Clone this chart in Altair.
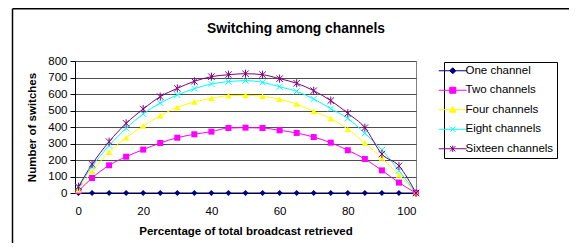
import altair as alt
import pandas as pd

# ---- data ----
x_values = [1, 5, 10, 15, 20, 25, 30, 35, 40, 45, 50, 55, 60, 65, 70, 75, 80, 85, 90, 95, 100]
one_channel = [0, 0, 0, 0, 0, 0, 0, 0, 0, 0, 0, 0, 0, 0, 0, 0, 0, 0, 0, 0, 0]
two_channels = [12, 91, 168, 220, 263, 303, 335, 356, 372, 394, 396, 394, 380, 364, 339, 305, 259, 206, 137, 63, 0]
four_channels = [18, 131, 248, 335, 406, 469, 519, 552, 574, 590, 592, 586, 568, 539, 495, 451, 386, 303, 212, 109, 0]
eight_channels = [34, 160, 287, 392, 479, 545, 594, 632, 661, 675, 681, 671, 644, 616, 570, 511, 452, 362, 261, 135, 0]
sixteen_channels = [38, 174, 311, 422, 509, 584, 634, 677, 705, 717, 723, 717, 693, 665, 620, 560, 483, 396, 236, 164, 0]

series_names = ["One channel", "Two channels", "Four channels", "Eight channels", "Sixteen channels"]
series_values = [one_channel, two_channels, four_channels, eight_channels, sixteen_channels]
series_colors = ["#000080", "#FF00FF", "#FFFF00", "#00FFFF", "#800080"]

x_ticks = [0, 20, 40, 60, 80, 100]
y_ticks = [0, 100, 200, 300, 400, 500, 600, 700, 800]

rows = []
for name, vals in zip(series_names, series_values):
    for xv, yv in zip(x_values, vals):
        rows.append({"series": name, "x": xv, "y": yv})
df = pd.DataFrame(rows)

FONT = "Liberation Sans"

# plot markers (shape, filled, size)
marker_specs = [
    ("diamond", True, 36),
    ("square", True, 36),
    ("triangle-up", True, 42),
    ("M-1,-1L1,1M-1,1L1,-1", False, 36),
    ("M-1,-1L1,1M-1,1L1,-1M0,-1.25L0,1.25", False, 42),
]

# legend symbols: line segment + scribble-filled marker (units of 2px)
L = "M-7,0H7"
legend_paths = [
    L + "M-1.5,0L0,-1.5L1.5,0L0,1.5Z M-1,-0.5H1 M-1,0.5H1 M-0.5,-1H0.5 M-0.5,1H0.5",
    L + "M-1.5,-1.5H1.5V1.5H-1.5Z M-1.5,-1H1.5 M-1.5,-0.5H1.5 M-1.5,0.5H1.5 M-1.5,1H1.5",
    L + "M0,-1.6L1.6,1.2L-1.6,1.2Z M-0.34,-1H0.34 M-0.63,-0.5H0.63 M-0.91,0H0.91 M-1.2,0.5H1.2 M-1.49,1H1.49",
    L + "M-1.3,-1.3L1.3,1.3M-1.3,1.3L1.3,-1.3",
    L + "M-1.3,-1.3L1.3,1.3M-1.3,1.3L1.3,-1.3M0,-1.6V1.6",
]

cscale = alt.Scale(domain=series_names, range=series_colors)

x_enc = alt.X(
    "x:Q",
    scale=alt.Scale(domain=[0, 100], nice=False, zero=False),
    axis=alt.Axis(
        values=x_ticks, title="Percentage of total broadcast retrieved",
        ticks=False, tickSize=0, grid=False, domainColor="black",
        labelFont=FONT, labelFontSize=11.5, labelColor="black", labelPadding=12,
        titleFont=FONT, titleFontSize=11.5, titleFontWeight="bold", titleColor="black",
        titlePadding=9,
    ),
)
y_enc = alt.Y(
    "y:Q",
    scale=alt.Scale(domain=[0, 800], nice=False),
    axis=alt.Axis(
        values=y_ticks, title="Number of switches",
        ticks=True, tickSize=5, tickColor="black", domainColor="black",
        grid=True, gridColor="#4d4d4d", gridWidth=1,
        labelFont=FONT, labelFontSize=11.5, labelColor="black", labelPadding=3,
        titleFont=FONT, titleFontSize=11.5, titleFontWeight="bold", titleColor="black",
        titlePadding=10,
    ),
)

base = alt.Chart(df)

legend_props = dict(
    title=None, orient="none", legendX=369, legendY=1,
    strokeColor="black", fillColor="white", padding=3, rowPadding=6.5,
    labelOffset=7, symbolSize=16, symbolStrokeWidth=1,
    labelFont=FONT, labelFontSize=11.5, labelColor="black", labelLimit=300,
)
carrier = base.mark_point(opacity=0, filled=False, strokeWidth=1, size=16).encode(
    x=x_enc, y=y_enc,
    color=alt.Color("series:N", scale=cscale, legend=alt.Legend(**legend_props)),
    shape=alt.Shape("series:N", scale=alt.Scale(domain=series_names, range=legend_paths),
                    legend=alt.Legend(**legend_props)),
)

lines = base.mark_line(interpolate="monotone", strokeWidth=1).encode(
    x=x_enc, y=y_enc,
    color=alt.Color("series:N", scale=cscale),
)

point_layers = []
for name, (shape, filled, size) in zip(series_names, marker_specs):
    point_layers.append(
        base.transform_filter(alt.datum.series == name)
        .mark_point(shape=shape, filled=filled, size=size, strokeWidth=1, opacity=1)
        .encode(x=x_enc, y=y_enc, color=alt.Color("series:N", scale=cscale))
    )

frame_df = pd.DataFrame({"a": [0]})
frame_top = alt.Chart(frame_df).mark_rule(color="black", strokeWidth=1.5).encode(
    x=alt.value(-62.5), x2=alt.value(510), y=alt.value(-52.2)
)
frame_left = alt.Chart(frame_df).mark_rule(color="black", strokeWidth=1.5).encode(
    x=alt.value(-62.5), y=alt.value(-52.2), y2=alt.value(200)
)

chart = alt.layer(carrier, frame_top, frame_left, lines, *point_layers).properties(
    width=341, height=132,
    title=alt.TitleParams(
        "Switching among channels", font=FONT, fontSize=13.8, fontWeight="bold",
        color="black", anchor="middle", dx=50.5, offset=-28,
    ),
    autosize=alt.AutoSizeParams(type="none"),
    padding={"left": 67, "top": 53, "right": 153, "bottom": 50},
).configure_view(stroke="#808080", strokeWidth=1)

chart.save("out.html", embed_options={"renderer": "svg", "actions": False})
